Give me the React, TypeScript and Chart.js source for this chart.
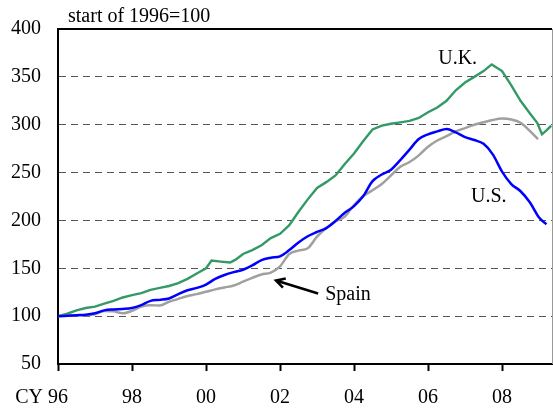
import React, { useEffect, useRef } from "react";
import { Chart, registerables } from "chart.js";

Chart.register(...registerables);

// decimal years for each reading
const ukDates = [1996.0, 1996.25, 1996.5, 1996.75, 1997.0, 1997.25, 1997.5, 1997.75, 1998.0, 1998.25, 1998.5, 1998.75, 1999.0, 1999.25, 1999.5, 1999.75, 2000.0, 2000.15, 2000.4, 2000.65, 2000.8, 2001.0, 2001.25, 2001.5, 2001.75, 2002.0, 2002.25, 2002.5, 2002.75, 2003.0, 2003.25, 2003.5, 2003.75, 2004.0, 2004.25, 2004.5, 2004.75, 2005.0, 2005.25, 2005.5, 2005.75, 2006.0, 2006.25, 2006.5, 2006.75, 2007.0, 2007.25, 2007.5, 2007.72, 2008.0, 2008.25, 2008.5, 2008.75, 2008.95, 2009.08, 2009.2, 2009.33];
const ukValues = [100, 102.5, 106, 108.5, 110, 113, 116, 119.5, 122, 124, 127.5, 129.5, 131.5, 134.5, 139, 144.5, 150, 158, 157, 156, 159, 165, 169, 174, 181.5, 186, 195, 209, 222, 234, 240, 247, 259, 270, 283, 295, 299, 301, 302.5, 304, 307, 313, 318, 325, 336, 344, 350, 356, 363, 356, 341, 325, 312, 302, 290, 294, 299];

const usDates = [1996.0, 1996.25, 1996.5, 1996.75, 1997.0, 1997.25, 1997.5, 1997.75, 1998.0, 1998.25, 1998.5, 1998.75, 1999.0, 1999.25, 1999.5, 1999.75, 2000.0, 2000.25, 2000.5, 2000.75, 2001.0, 2001.25, 2001.5, 2001.75, 2002.0, 2002.25, 2002.5, 2002.75, 2003.0, 2003.25, 2003.5, 2003.75, 2004.0, 2004.25, 2004.5, 2004.75, 2005.0, 2005.25, 2005.5, 2005.75, 2006.0, 2006.25, 2006.5, 2006.75, 2007.0, 2007.25, 2007.5, 2007.75, 2008.0, 2008.25, 2008.5, 2008.75, 2009.0, 2009.2];
const usValues = [100, 100.5, 101, 101.5, 103, 106, 107, 107.5, 108.5, 111.5, 116, 117, 118.5, 123, 127, 129.5, 133, 139, 143, 146, 148.5, 153, 158.5, 161, 162.5, 169, 177, 183.5, 188, 192, 199.5, 208, 215, 225.5, 241, 248, 253, 263, 274, 285, 290, 293, 295.5, 292, 287, 284, 280, 269, 251, 238, 230.5, 219, 203, 196];

const spainDates = [1996.0, 1996.25, 1996.5, 1996.75, 1997.0, 1997.25, 1997.5, 1997.75, 1998.0, 1998.25, 1998.5, 1998.75, 1999.0, 1999.25, 1999.5, 1999.75, 2000.0, 2000.25, 2000.5, 2000.75, 2001.0, 2001.25, 2001.5, 2001.75, 2002.0, 2002.25, 2002.5, 2002.75, 2003.0, 2003.25, 2003.5, 2003.75, 2004.0, 2004.25, 2004.5, 2004.75, 2005.0, 2005.25, 2005.5, 2005.75, 2006.0, 2006.25, 2006.5, 2006.75, 2007.0, 2007.25, 2007.5, 2007.75, 2008.0, 2008.25, 2008.5, 2008.75, 2008.97];
const spainValues = [100, 100.5, 101, 101, 102, 105.5, 105, 103, 105.5, 110, 111.5, 111, 115, 118, 121, 123, 125.5, 128, 130, 132, 136, 140, 143.5, 145.5, 152, 165, 168.5, 171, 183, 192, 199, 204, 216, 225.5, 231.5, 238, 247, 256, 261, 268, 277, 283.5, 288, 293, 296.5, 300, 302.5, 305, 306.5, 305.5, 302, 293.5, 285];

const yTicks = [50, 100, 150, 200, 250, 300, 350, 400];
const xTickYears = [1996, 1998, 2000, 2002, 2004, 2006, 2008];
const subtitle = "start of 1996=100";
const seriesLabels = [
  { text: "U.K.", x: 2006.8, y: 363.6 },
  { text: "U.S.", x: 2007.64, y: 219.3 },
];
const spainLabel = { text: "Spain", x: 2003.22, y: 116.5 };
const spainArrow = { fromX: 2003.03, fromY: 123.7, toX: 2001.89, toY: 137.2 };

const FONT = "'Liberation Serif', 'Times New Roman', serif";
const X_TICK_LEN = 7;
const X_TICK_PAD = 15;
const FONT_SIZE = 20;

const pts = (xs: number[], ys: number[]) => xs.map((x, i) => ({ x, y: ys[i] }));

const overlayPlugin = {
  id: "overlay",
  afterDraw(chart: any) {
    const { ctx, chartArea, scales } = chart;
    const xs = scales.x;
    const ys = scales.y;
    ctx.save();
    // frame: top and right
    ctx.strokeStyle = "#000";
    ctx.lineWidth = 2;
    ctx.beginPath();
    ctx.moveTo(chartArea.left - 1, chartArea.top);
    ctx.lineTo(chartArea.right, chartArea.top);
    ctx.stroke();
    ctx.strokeStyle = "#999";
    ctx.lineWidth = 1;
    ctx.beginPath();
    ctx.moveTo(chartArea.right + 0.5, chartArea.top);
    ctx.lineTo(chartArea.right + 0.5, chartArea.bottom);
    ctx.stroke();

    ctx.fillStyle = "#000";
    ctx.font = `${FONT_SIZE}px ${FONT}`;
    ctx.textBaseline = "alphabetic";
    // subtitle
    ctx.textAlign = "left";
    ctx.fillText(subtitle, chartArea.left + 10, chartArea.top - 7);
    // CY prefix, aligned with the first x tick label
    const w = ctx.measureText("96").width;
    ctx.textAlign = "right";
    ctx.textBaseline = "middle";
    ctx.fillText("CY ", xs.getPixelForValue(xTickYears[0]) - w / 2, xs.top + X_TICK_LEN + X_TICK_PAD + FONT_SIZE * 0.6);
    // series labels
    ctx.textBaseline = "alphabetic";
    ctx.textAlign = "center";
    for (const l of seriesLabels) {
      ctx.fillText(l.text, xs.getPixelForValue(l.x), ys.getPixelForValue(l.y));
    }
    ctx.textAlign = "left";
    ctx.fillText(spainLabel.text, xs.getPixelForValue(spainLabel.x), ys.getPixelForValue(spainLabel.y));
    // arrow
    const x1 = xs.getPixelForValue(spainArrow.fromX);
    const y1 = ys.getPixelForValue(spainArrow.fromY);
    const x2 = xs.getPixelForValue(spainArrow.toX);
    const y2 = ys.getPixelForValue(spainArrow.toY);
    ctx.strokeStyle = "#000";
    ctx.lineWidth = 2.5;
    ctx.beginPath();
    ctx.moveTo(x1, y1);
    ctx.lineTo(x2, y2);
    const ang = Math.atan2(y1 - y2, x1 - x2);
    const hl = 10;
    ctx.moveTo(x2 + hl * Math.cos(ang + 0.5), y2 + hl * Math.sin(ang + 0.5));
    ctx.lineTo(x2, y2);
    ctx.lineTo(x2 + hl * Math.cos(ang - 0.5), y2 + hl * Math.sin(ang - 0.5));
    ctx.stroke();
    ctx.restore();
  },
};

export default function App() {
  const ref = useRef<HTMLCanvasElement>(null);
  useEffect(() => {
    document.body.style.margin = "0";
    const chart = new Chart(ref.current!, {
      type: "line",
      data: {
        datasets: [
          {
            label: "U.S.",
            data: pts(usDates, usValues),
            borderColor: "#0000ff",
            borderWidth: 2.5,
            pointRadius: 0,
            cubicInterpolationMode: "monotone",
          },
          {
            label: "Spain",
            data: pts(spainDates, spainValues),
            borderColor: "#a0a0a0",
            borderWidth: 2.5,
            pointRadius: 0,
            cubicInterpolationMode: "monotone",
          },
          {
            label: "U.K.",
            data: pts(ukDates, ukValues),
            borderColor: "#339966",
            borderWidth: 2.4,
            pointRadius: 0,
            tension: 0,
          },
        ],
      },
      options: {
        responsive: false,
        animation: false,
        events: [],
        layout: { padding: { left: 0, top: 27, right: 1, bottom: 0 } },
        plugins: { legend: { display: false }, tooltip: { enabled: false }, title: { display: false } },
        scales: {
          x: {
            type: "linear",
            min: 1996,
            max: 2009.35,
            afterFit: (s: any) => { s.height = 50; },
            afterBuildTicks: (s: any) => { s.ticks = xTickYears.map((v) => ({ value: v })); },
            ticks: {
              includeBounds: false,
              autoSkip: false,
              maxRotation: 0,
              padding: X_TICK_PAD,
              color: "#000",
              font: { family: FONT, size: FONT_SIZE },
              callback: (v: any) => String(Number(v) % 100).padStart(2, "0"),
            },
            grid: { drawOnChartArea: false, drawTicks: true, tickLength: X_TICK_LEN, tickWidth: 2, color: "#000", tickColor: "#000" },
            border: { color: "#000", width: 2 },
          },
          y: {
            min: 50,
            max: 400,
            afterFit: (s: any) => { s.width = 58; },
            afterBuildTicks: (s: any) => { s.ticks = yTicks.map((v) => ({ value: v })); },
            ticks: {
              padding: 17,
              color: "#000",
              font: { family: FONT, size: FONT_SIZE },
            },
            grid: {
              drawTicks: false,
              lineWidth: 1,
              color: (c: any) => (c.tick && (c.tick.value === 50 || c.tick.value === 400) ? "rgba(0,0,0,0)" : "#555"),
            },
            border: { color: "#000", width: 2, dash: [7, 5] },
          },
        },
      },
      plugins: [overlayPlugin],
    } as any);
    return () => chart.destroy();
  }, []);
  return (
    <div style={{ position: "fixed", left: 0, top: 0, width: 553, height: 414 }}>
      <canvas ref={ref} width={553} height={414} style={{ display: "block" }} />
    </div>
  );
}
